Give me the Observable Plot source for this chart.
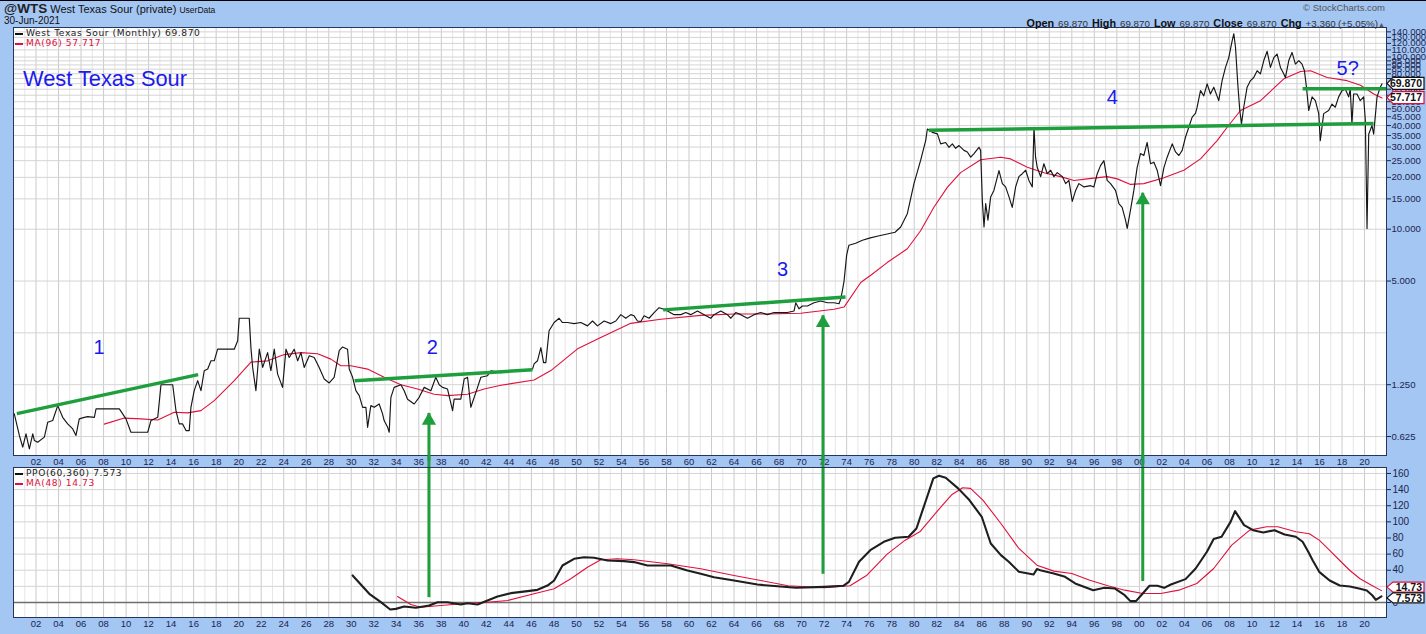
<!DOCTYPE html>
<html><head><meta charset="utf-8">
<script src="https://cdn.jsdelivr.net/npm/d3@7"></script>
<script src="https://cdn.jsdelivr.net/npm/@observablehq/plot@0.6"></script>
<style>
html,body{margin:0;padding:0;}
body{width:1426px;height:634px;overflow:hidden;background:#a4c6f3;position:relative;font-family:"Liberation Sans",Arial,sans-serif;}
.abs{position:absolute;white-space:nowrap;}
.leg{font-family:"DejaVu Sans",Verdana,sans-serif;font-size:9.1px;letter-spacing:0.6px;}
.sw{display:inline-block;width:8px;height:2px;vertical-align:middle;margin-right:3px;}
.hb{font-weight:bold;font-size:10.8px;color:#111;}
.hv{font-size:9.8px;color:#333;}
</style></head><body>
<div id="main" class="abs" style="left:0;top:0"></div>
<div id="lower" class="abs" style="left:0;top:455px"></div>
<div class="abs" style="left:0;top:0;width:1426px;height:1px;background:#000"></div>
<div class="abs" style="left:4px;top:1px;font-size:11px;color:#111"><b style="font-size:13.5px;color:#222">@WTS</b> West Texas Sour (private) <span style="font-size:8.5px">UserData</span></div>
<div class="abs" style="left:4px;top:15px;font-size:10px;color:#111">30-Jun-2021</div>
<div class="abs" style="right:41px;top:2px;font-size:9.5px;color:#555">&#169; StockCharts.com</div>
<div class="abs" style="right:41px;top:13px;word-spacing:-0.5px"><span class="hb">Open</span> <span class="hv">69.870</span> <span class="hb">High</span> <span class="hv">69.870</span> <span class="hb">Low</span> <span class="hv">69.870</span> <span class="hb">Close</span> <span class="hv">69.870</span> <span class="hb">Chg</span> <span class="hv">+3.360 (+5.05%)</span><span style="font-size:7px;color:#555">&#9650;</span></div>
<div class="abs leg" style="left:15px;top:28px;color:#222"><span class="sw" style="background:#111"></span>West Texas Sour (Monthly) 69.870</div>
<div class="abs leg" style="left:15px;top:38px;color:#e0103c"><span class="sw" style="background:#e0103c"></span>MA(96) 57.717</div>
<div class="abs" style="left:23px;top:66px;font-size:21.8px;color:#1a1aee">West Texas Sour</div>
<div class="abs leg" style="left:15px;top:468px;color:#222"><span class="sw" style="background:#111"></span>PPO(60,360) 7.573</div>
<div class="abs leg" style="left:15px;top:478px;color:#e0103c"><span class="sw" style="background:#e0103c"></span>MA(48) 14.73</div>
<script>
// ---------- data ----------
const price = [
[1900.07,0.846],[1900.52,0.634],[1900.82,0.543],[1901.11,0.648],[1901.41,0.530],[1901.71,0.648],[1901.85,0.593],[1902.15,0.579],[1902.74,0.620],[1903.04,0.756],[1903.48,0.774],[1903.93,0.945],[1904.37,0.808],[1904.81,0.740],[1905.26,0.692],[1905.55,0.634],[1905.84,0.792],[1906.29,0.808],[1906.59,0.815],[1907.18,0.808],[1907.33,0.904],[1909.40,0.904],[1909.99,0.792],[1910.43,0.662],[1911.92,0.662],[1912.21,0.774],[1912.81,0.808],[1913.10,1.25],[1914.14,1.25],[1914.43,0.884],[1914.72,0.740],[1915.02,0.740],[1915.32,0.677],[1915.61,0.677],[1915.76,0.924],[1916.05,1.154],[1916.36,1.319],[1916.65,1.154],[1916.94,1.506],[1917.25,1.541],[1917.54,1.721],[1917.83,1.721],[1918.13,2.01],[1919.61,2.01],[1919.91,2.25],[1920.05,3.04],[1920.94,3.04],[1921.09,2.05],[1921.24,1.575],[1921.53,1.154],[1921.83,2.01],[1922.13,1.575],[1922.57,1.92],[1922.86,1.506],[1923.16,2.01],[1923.46,1.44],[1923.90,1.206],[1924.20,2.01],[1924.49,1.80],[1924.93,2.01],[1925.24,1.721],[1925.53,1.92],[1925.82,1.575],[1926.27,1.84],[1926.71,1.80],[1927.15,1.575],[1927.60,1.349],[1928.04,1.28],[1928.48,1.38],[1928.93,1.97],[1929.23,2.07],[1929.67,2.01],[1929.82,1.541],[1930.12,1.38],[1930.41,1.154],[1930.71,1.08],[1931.01,0.924],[1931.30,0.924],[1931.45,0.707],[1931.74,0.945],[1932.04,0.924],[1932.48,0.966],[1932.78,0.846],[1932.92,0.774],[1933.23,0.707],[1933.37,0.662],[1933.52,1.056],[1933.81,1.206],[1934.41,1.25],[1934.70,1.154],[1935.00,1.03],[1935.59,0.966],[1936.03,1.056],[1936.48,1.206],[1937.07,1.154],[1937.51,1.38],[1937.81,1.25],[1938.11,1.206],[1938.55,1.18],[1939.00,0.884],[1939.14,1.03],[1939.73,1.03],[1940.03,1.349],[1940.33,1.38],[1940.62,0.924],[1941.07,1.128],[1941.51,1.38],[1942.10,1.41],[1942.40,1.506],[1943.29,1.47],[1944.17,1.506],[1945.06,1.506],[1945.80,1.53],
[1946.10,1.541],[1946.24,1.65],[1946.54,1.721],[1946.84,2.05],[1947.08,1.68],[1947.28,1.68],[1947.57,2.57],[1948.02,2.87],[1948.46,3.04],[1948.76,2.87],[1949.21,2.87],[1949.79,2.83],[1950.39,2.87],[1950.98,2.745],[1951.43,2.93],[1951.87,2.745],[1952.46,2.93],[1953.05,2.83],[1953.50,2.93],[1953.94,3.19],[1954.38,3.04],[1954.83,3.19],[1955.12,3.14],[1955.42,2.93],[1955.72,2.91],[1956.01,3.14],[1956.45,3.04],[1956.90,3.28],[1957.34,3.50],[1957.64,3.45],[1958.09,3.35],[1958.67,3.19],[1959.27,3.19],[1959.71,3.28],[1960.15,3.19],[1960.75,3.35],[1961.34,3.19],[1961.93,3.04],[1962.22,3.19],[1962.82,3.35],[1963.41,3.19],[1963.71,3.04],[1964.15,3.28],[1964.59,3.19],[1965.19,3.04],[1965.78,3.19],[1966.37,3.28],[1966.96,3.19],[1967.55,3.28],[1968.15,3.28],[1968.74,3.28],[1969.33,3.35],[1969.48,3.74],[1969.77,3.45],[1970.07,3.58],[1970.52,3.58],[1971.10,3.74],[1971.70,3.83],[1972.29,3.74],[1972.88,3.74],[1973.32,3.69],[1973.47,3.92],[1973.62,4.38],[1973.77,5.0],
[1974.00,7.07],[1974.20,8.07],[1974.80,8.28],[1975.40,8.63],[1976.10,8.9],[1976.80,9.13],[1977.60,9.38],[1978.30,9.6],[1978.80,10.3],[1979.39,12.3],[1979.98,18.4],[1980.57,25.1],[1981.02,32.7],[1981.17,38.2],[1981.61,36.5],[1982.06,35.8],[1982.35,31.3],[1982.79,31.9],[1983.09,29.9],[1983.39,31.3],[1983.68,29.5],[1983.98,30.6],[1984.42,28.7],[1984.72,28.1],[1985.02,26.2],[1985.31,27.5],[1985.75,29.9],[1985.90,28.7],[1986.05,14.7],[1986.20,10.3],[1986.35,14.1],[1986.55,11.3],[1986.79,15.4],[1987.08,16.8],[1987.53,21.9],[1987.83,18.4],[1988.12,17.6],[1988.42,15.4],[1988.71,13.4],[1989.01,17.6],[1989.30,20.2],[1989.60,21.0],[1989.90,22.0],[1990.19,19.2],[1990.49,17.6],[1990.64,39.1],[1990.78,26.2],[1990.93,22.8],[1991.23,20.2],[1991.52,24.0],[1991.82,21.0],[1992.12,22.0],[1992.41,20.2],[1992.71,21.3],[1993.16,20.2],[1993.45,18.4],[1993.74,19.2],[1994.04,14.5],[1994.34,16.8],[1994.63,18.4],[1995.08,17.6],[1995.67,17.9],[1995.96,17.6],[1996.26,21.0],[1996.55,23.4],[1996.85,25.0],[1997.14,19.2],[1997.44,18.4],[1997.88,16.8],[1998.18,14.1],[1998.47,13.4],[1998.77,11.3],[1998.92,10.1],[1999.21,12.9],[1999.51,16.8],[1999.80,22.8],[2000.10,27.5],[2000.40,26.8],[2000.69,31.9],[2000.99,24.0],[2001.29,24.5],[2001.58,22.0],[2001.88,17.9],[2002.18,22.8],[2002.47,26.2],[2002.92,31.3],[2003.21,28.1],[2003.51,26.8],[2003.80,28.7],[2004.10,34.3],[2004.39,39.1],[2004.69,44.8],[2004.98,47.0],[2005.13,51.1],[2005.43,63.8],[2005.72,59.5],[2006.02,69.8],[2006.31,61.0],[2006.61,66.8],[2007.05,55.8],[2007.35,73.0],[2007.65,87.0],[2007.94,99.2],[2008.24,124],[2008.39,136.5],[2008.54,113.6],[2008.74,69.8],[2008.92,48.9],[2009.07,40.9],[2009.27,51.1],[2009.57,66.8],[2009.87,73.0],[2010.16,76.0],[2010.46,83.2],[2010.75,79.9],[2011.05,95.4],[2011.35,108],[2011.64,87.0],[2011.94,99.2],[2012.23,104.1],[2012.53,87.0],[2012.82,79.9],[2012.97,76.0],[2013.27,95.4],[2013.56,106.3],[2013.86,91.0],[2014.16,95.4],[2014.45,91.0],[2014.66,83.2],[2014.84,66.8],[2015.04,48.9],[2015.34,58.7],[2015.63,55.8],[2015.93,46.9],[2016.07,32.7],[2016.37,46.9],[2016.81,48.9],[2017.11,53.3],[2017.40,51.1],[2017.70,58.7],[2018.00,63.8],[2018.29,65.2],[2018.59,58.7],[2018.73,65.2],[2018.88,40.9],[2019.03,61.0],[2019.33,61.0],[2019.62,55.8],[2019.92,58.7],[2020.07,42.8],[2020.22,10.1],[2020.37,35.6],[2020.66,40.0],[2020.81,35.6],[2021.11,58.7],[2021.40,66.8],[2021.55,69.87]
];
const ma96 = [
[1908.06,0.738],[1909.84,0.80],[1911.32,0.792],[1912.81,0.78],[1914.28,0.864],[1915.47,0.858],[1916.65,0.884],[1917.83,1.01],[1919.61,1.32],[1921.09,1.69],[1922.57,1.72],[1924.05,1.87],[1925.53,1.92],[1927.01,1.89],[1928.19,1.76],[1929.08,1.61],[1929.97,1.61],[1931.45,1.54],[1932.92,1.38],[1934.41,1.25],[1935.89,1.18],[1937.36,1.10],[1938.55,1.08],[1940.33,1.10],[1941.80,1.18],[1943.29,1.24],[1946.24,1.33],[1947.73,1.51],[1950.10,2.02],[1952.16,2.35],[1954.83,2.84],[1957.49,3.0],[1961.04,3.16],[1964.0,3.22],[1966.96,3.22],[1969.92,3.25],[1972.88,3.43],[1973.77,3.53],[1975.25,4.9],[1976.14,5.4],[1977.6,6.4],[1979.39,7.7],[1980.57,9.8],[1981.75,13.4],[1982.94,17.5],[1984.12,21.3],[1985.90,25.3],[1987.68,26.2],[1988.57,25.6],[1990.05,22.9],[1991.52,21.3],[1993.0,20.2],[1994.19,19.2],[1995.37,19.6],[1997.14,20.2],[1998.04,19.6],[1999.22,18.2],[2000.40,18.4],[2002.18,19.9],[2003.95,22.0],[2005.43,25.6],[2006.91,32.7],[2007.80,39.1],[2008.98,48.9],[2010.76,55.8],[2012.83,74.7],[2014.31,82.4],[2015.20,83.2],[2016.68,76.0],[2018.45,72.9],[2019.64,68.5],[2020.82,61.0],[2021.55,57.72]
];
const ppo = [
[1930.12,33.5],[1931.6,10.8],[1932.63,0.4],[1933.46,-8.7],[1933.96,-7.9],[1934.70,-5],[1935.74,-6.6],[1936.92,-3.7],[1937.67,0.4],[1938.55,0.4],[1939.73,-2.5],[1940.33,-0.9],[1941.22,-2.5],[1942.10,2.5],[1942.99,7.4],[1944.17,11.6],[1945.66,14.1],[1946.54,15.7],[1947.43,21],[1948.02,27.3],[1948.76,45.9],[1949.79,54.2],[1950.68,56.2],[1951.57,55.4],[1952.76,52.1],[1954.23,51.3],[1955.12,50.1],[1956.31,45.9],[1957.20,45.9],[1958.38,45.9],[1959.86,39.7],[1961.04,35.6],[1962.22,31.4],[1964.0,27.3],[1966.08,22.3],[1967.3,20.7],[1969.5,18.2],[1972.0,19.4],[1973.7,20.7],[1974.2,25.6],[1975.1,50.5],[1976.1,64.9],[1977.3,75.3],[1978.3,80.2],[1979.5,81.5],[1980.2,91.8],[1981.1,129],[1981.7,153.9],[1982.2,157.2],[1982.8,154.7],[1983.9,141.5],[1984.9,127],[1986.0,106.3],[1986.8,73.2],[1987.7,58.7],[1988.4,50.5],[1989.3,38.1],[1990.6,34.7],[1990.9,41.4],[1991.2,40.1],[1992.4,36],[1993.4,31.8],[1994.3,23.6],[1995.9,15.3],[1996.9,18.2],[1997.8,17.4],[1998.7,9.1],[1999.2,1.7],[1999.7,1.7],[2000.3,11.2],[2000.9,20.7],[2001.6,20.7],[2002.2,18.2],[2002.8,22.3],[2004.1,29],[2005.0,42.2],[2006.0,62.9],[2006.6,78.6],[2007.3,81.5],[2008.1,100],[2008.5,113.3],[2009.3,96],[2010.1,89.7],[2011.0,86.9],[2012.0,89.7],[2012.9,84.4],[2013.9,81.5],[2014.5,75.3],[2015.0,62.9],[2015.4,52],[2016.0,37.6],[2016.9,27.3],[2017.8,21.1],[2018.7,19.9],[2019.6,17],[2020.2,14.9],[2020.7,8.7],[2021.0,3.3],[2021.5,7.573]
];
const ppoMa48 = [
[1934.11,7.4],[1935.29,-2.5],[1936.18,-5.8],[1937.96,-3.7],[1940.33,-0.9],[1942.10,0.4],[1943.88,2.5],[1946.24,10.8],[1948.02,17.0],[1949.50,29.4],[1950.98,43.8],[1952.16,53],[1953.65,54.2],[1955.12,53.0],[1958.09,48],[1961.04,41.8],[1964.0,33.5],[1966.37,27.3],[1968.8,20.7],[1972.0,18.2],[1974.3,20.7],[1975.8,33.9],[1977.6,60],[1979.2,77.3],[1980.5,87.7],[1982.0,112.5],[1983.3,133.2],[1984.3,142.3],[1985.0,141.5],[1986.1,127],[1987.7,98],[1989.3,67],[1990.9,46.3],[1992.4,38.9],[1994.0,36],[1995.6,27.7],[1997.2,20.7],[1998.7,15.3],[2000.3,11.2],[2001.9,11.2],[2003.5,15.3],[2005.1,23.6],[2006.6,42.2],[2008.2,71.1],[2009.8,89.7],[2011.3,93.9],[2012.3,93.9],[2013.9,87.7],[2015.1,85.2],[2016.0,77],[2016.9,64.5],[2017.8,52.1],[2018.7,39.7],[2019.6,29.4],[2020.5,22.3],[2021.5,14.73]
];
// trend lines (green)
const trendX1 = [1900.3, 1930.3, 1957.7, 1981.3, 2014.5];
const trendY1 = [0.849, 1.318, 3.40, 37.5, 65.5];
const trendX2 = [1916.4, 1946.1, 1973.9, 2020.8, 2021.95];
const trendY2 = [1.43, 1.526, 4.04, 41.1, 65.5];
// arrows (green)
const arrowYear = [1936.9, 1971.9, 2000.3];
const arrowTop = [0.85, 3.14, 16.2];
const arrowBottom = [6, 35, 26];
// wave labels
const waveLabels = ["1", "2", "3", "4", "5?"];
const waveYears = [1907.6, 1937.2, 1968.3, 1997.6, 2018.5];
const waveValues = [2.05, 2.05, 5.79, 58.1, 85.7];
// ticks
const xTickYears = [1902,1904,1906,1908,1910,1912,1914,1916,1918,1920,1922,1924,1926,1928,1930,1932,1934,1936,1938,1940,1942,1944,1946,1948,1950,1952,1954,1956,1958,1960,1962,1964,1966,1968,1970,1972,1974,1976,1978,1980,1982,1984,1986,1988,1990,1992,1994,1996,1998,2000,2002,2004,2006,2008,2010,2012,2014,2016,2018,2020];
const xTickLabels = ["02","04","06","08","10","12","14","16","18","20","22","24","26","28","30","32","34","36","38","40","42","44","46","48","50","52","54","56","58","60","62","64","66","68","70","72","74","76","78","80","82","84","86","88","90","92","94","96","98","00","02","04","06","08","10","12","14","16","18","20"];
const mainTicks = [0.625,1.25,5,10,15,20,25,30,35,40,45,50,55,60,65,70,75,80,85,90,95,100,110,120,130,140];
const mainTickLabels = ["0.625","1.250","5.000","10.000","15.000","20.000","25.000","30.000","35.000","40.000","45.000","50.000","55.000","60.000","65.000","70.000","75.000","80.000","85.000","90.000","95.000","100.000","110.000","120.000","130.000","140.000"];
const mainGrid = [0.625,1.25,2.5,5,10,15,20,25,30,35,40,45,50,55,60,65,70,75,80,85,90,95,100,110,120,130,140];
const lowerTicks = [0,20,40,60,80,100,120,140,160];

// ---------- styling ----------
const GREEN = "#1e9e3c", RED = "#e0103c", FRAME = "#26355e";
const evenYears = d3.range(1900, 2022).filter(y => y % 2 === 0);
const oddYears = d3.range(1900, 2022).filter(y => y % 2 === 1);
const xDomain = [1900, 2021.95];
const fmtX = d => xTickLabels[xTickYears.indexOf(d)];

function valueTag(val, label, color, h, shift) {
  return (index, scales, values, dims) => {
    const y = scales.y(val) + (shift || 0);
    const x0 = dims.width - dims.marginRight + 1;
    const g = d3.create("svg:g");
    g.append("path")
      .attr("d", `M${x0},${y}L${x0+6},${y-h/2}H${x0+37}V${y+h/2}H${x0+6}Z`)
      .attr("fill", "white").attr("stroke", color).attr("stroke-width", 1.2);
    g.append("text").attr("x", x0 + 35).attr("y", y).attr("dy", "0.36em")
      .attr("text-anchor", "end").attr("font-weight", "bold").attr("font-size", 10.5)
      .attr("font-family", "'Liberation Sans', Arial, sans-serif").attr("fill", "#111").text(label);
    return g.node();
  };
}

const common = {
  width: 1426, marginLeft: 13, marginRight: 40,
  style: {background: "transparent", fontFamily: "'Liberation Sans', Arial, sans-serif", fontSize: "10px", color: "#1b2550"}
};

const mainPlot = Plot.plot({
  ...common,
  height: 467, marginTop: 27, marginBottom: 12,
  x: {domain: xDomain},
  y: {type: "log", domain: [0.485, 148.4]},
  marks: [
    Plot.frame({fill: "white", stroke: null}),
    Plot.ruleX(oddYears, {stroke: "#e6e6e6"}),
    Plot.ruleX(evenYears, {stroke: "#cbcbcb"}),
    Plot.ruleY(mainGrid, {stroke: "#d4d4d4"}),
    Plot.line(ma96, {x: d => d[0], y: d => d[1], stroke: RED, strokeWidth: 1.1, clip: true}),
    Plot.line(price, {x: d => d[0], y: d => d[1], stroke: "#161616", strokeWidth: 1.15, clip: true}),
    Plot.link(trendX1, {x1: trendX1, y1: trendY1, x2: trendX2, y2: trendY2, stroke: GREEN, strokeWidth: 3.5, clip: true}),
    Plot.ruleX(arrowYear, {x: arrowYear, y1: arrowTop, y2: 0.45, stroke: GREEN, strokeWidth: 3}),
    Plot.dot(arrowYear, {x: arrowYear, y: arrowTop, symbol: "triangle", r: 5.3, fill: GREEN, stroke: null, dy: 7}),
    Plot.text(waveLabels, {x: waveYears, y: waveValues, text: d => d, fill: "#1a1aee", fontSize: 20, fontFamily: "'Liberation Sans', Arial, sans-serif"}),
    Plot.axisX(xTickYears, {anchor: "bottom", tickSize: 0, tickPadding: 3, tickFormat: fmtX, fontSize: 9.5}),
    Plot.axisY(mainTicks, {anchor: "right", tickSize: 4, text: null}),
    Plot.text(mainTicks, {x: xDomain[1], y: d => d, text: (d, i) => mainTickLabels[i], dx: 5, textAnchor: "start", fontSize: 9.6, fill: "#1b2550"}),
    Plot.frame({stroke: FRAME}),
    valueTag(57.717, "57.717", RED, 12, 0),
    valueTag(69.87, "69.870", "#111", 12, 0)
  ]
});
document.getElementById("main").appendChild(mainPlot);

const lowerPlot = Plot.plot({
  ...common,
  height: 179, marginTop: 12, marginBottom: 17,
  x: {domain: xDomain},
  y: {domain: [-18.6, 167.4]},
  marks: [
    Plot.frame({fill: "white", stroke: null}),
    Plot.ruleX(oddYears, {stroke: "#e6e6e6"}),
    Plot.ruleX(evenYears, {stroke: "#cbcbcb"}),
    Plot.ruleY(lowerTicks, {stroke: "#d4d4d4"}),
    Plot.ruleY([0], {stroke: "#6e6e6e", strokeWidth: 1.5}),
    Plot.line(ppoMa48, {x: d => d[0], y: d => d[1], stroke: RED, strokeWidth: 1.1}),
    Plot.line(ppo, {x: d => d[0], y: d => d[1], stroke: "#1e1e1e", strokeWidth: 2.1}),
    Plot.ruleX(arrowYear, {x: arrowYear, y1: arrowBottom, y2: 200, stroke: GREEN, strokeWidth: 3}),
    Plot.axisX(xTickYears, {anchor: "bottom", tickSize: 0, tickPadding: 3, tickFormat: fmtX, fontSize: 9.5}),
    Plot.axisY(lowerTicks, {anchor: "right", tickSize: 4, tickPadding: 2, tickFormat: d3.format("d"), fontSize: 10}),
    Plot.frame({stroke: FRAME}),
    valueTag(14.73, "14.73", RED, 10, -3),
    valueTag(7.573, "7.573", "#111", 10, 2)
  ]
});
document.getElementById("lower").appendChild(lowerPlot);
</script>
</body></html>
